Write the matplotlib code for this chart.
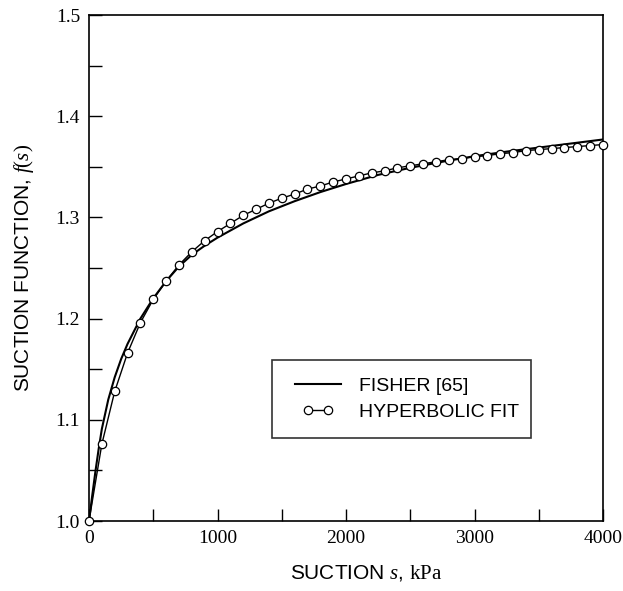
import matplotlib
matplotlib.use("Agg")
import matplotlib.pyplot as plt
from matplotlib.ticker import MultipleLocator, FormatStrFormatter
from matplotlib.legend_handler import HandlerLine2D

plt.rcParams['mathtext.fontset'] = 'custom'
plt.rcParams['mathtext.rm'] = 'Liberation Serif'
plt.rcParams['mathtext.it'] = 'Liberation Serif:italic'

# Fisher [65] curve
fisher_s = [0, 25, 50, 75, 100, 150, 200, 250, 300, 400, 500, 600, 700, 800,
            900, 1000, 1200, 1400, 1600, 1800, 2000, 2250, 2500, 2750, 3000,
            3250, 3500, 3750, 4000]
fisher_f = [1.000, 1.025, 1.049, 1.071, 1.091, 1.120, 1.142, 1.160, 1.175,
            1.200, 1.220, 1.237, 1.2515, 1.263, 1.272, 1.280, 1.294, 1.306,
            1.316, 1.325, 1.333, 1.342, 1.349, 1.355, 1.3605, 1.365, 1.369,
            1.373, 1.377]

# Hyperbolic fit points (every 100 kPa)
hyp_s = list(range(0, 4001, 100))
hyp_f = [1.000, 1.076, 1.128, 1.166, 1.196, 1.219, 1.237, 1.253, 1.266, 1.277,
         1.286, 1.294, 1.302, 1.308, 1.314, 1.319, 1.323, 1.328, 1.331, 1.335,
         1.338, 1.341, 1.344, 1.346, 1.349, 1.351, 1.353, 1.355, 1.357, 1.358,
         1.360, 1.361, 1.363, 1.364, 1.366, 1.367, 1.368, 1.369, 1.370, 1.371,
         1.372]

fig = plt.figure(figsize=(6.23, 5.91), dpi=100)
ax = fig.add_axes([89/623, 1-521/591, 514/623, 506/591])

ax.plot(fisher_s, fisher_f, color='black', lw=1.5, label='FISHER [65]',
        zorder=2)
hyp_line, = ax.plot(hyp_s, hyp_f, color='black', lw=1.0, marker='o',
                    markersize=6, markerfacecolor='white',
                    markeredgecolor='black', markeredgewidth=0.9,
                    label='HYPERBOLIC FIT', clip_on=False, zorder=3)

ax.set_xlim(0, 4000)
ax.set_ylim(1.0, 1.5)
ax.xaxis.set_major_locator(MultipleLocator(1000))
ax.xaxis.set_minor_locator(MultipleLocator(500))
ax.yaxis.set_major_locator(MultipleLocator(0.1))
ax.yaxis.set_minor_locator(MultipleLocator(0.05))
ax.yaxis.set_major_formatter(FormatStrFormatter('%.1f'))
ax.tick_params(which='both', direction='in', top=False, right=False,
               length=9, width=1, labelsize=14, pad=6.5)
for lab in ax.get_xticklabels() + ax.get_yticklabels():
    lab.set_fontfamily('Liberation Serif')
for sp in ax.spines.values():
    sp.set_linewidth(1.2)

ax.set_xlabel(r'SUCTION $s$, $\mathrm{kPa}$', fontsize=15,
              fontfamily='Liberation Sans')
ax.set_ylabel(r'SUCTION FUNCTION, $f\mathrm{(}s\mathrm{)}$', fontsize=15,
              fontfamily='Liberation Sans')
ax.xaxis.set_label_coords(0.54, -0.083)
ax.yaxis.set_label_coords(-0.103, 0.5)

leg = ax.legend(loc='center', bbox_to_anchor=(0.356, 0.1615, 0.504, 0.160),
                mode='expand', fancybox=False, edgecolor='black',
                prop={'family': 'Liberation Sans', 'size': 14},
                handlelength=2.95, handletextpad=0.67, borderpad=0.88,
                borderaxespad=0, labelspacing=0.44, numpoints=2,
                handler_map={hyp_line: HandlerLine2D(marker_pad=0.95)})
leg.get_frame().set_linewidth(1.2)

fig.savefig('out.png', dpi=100)
